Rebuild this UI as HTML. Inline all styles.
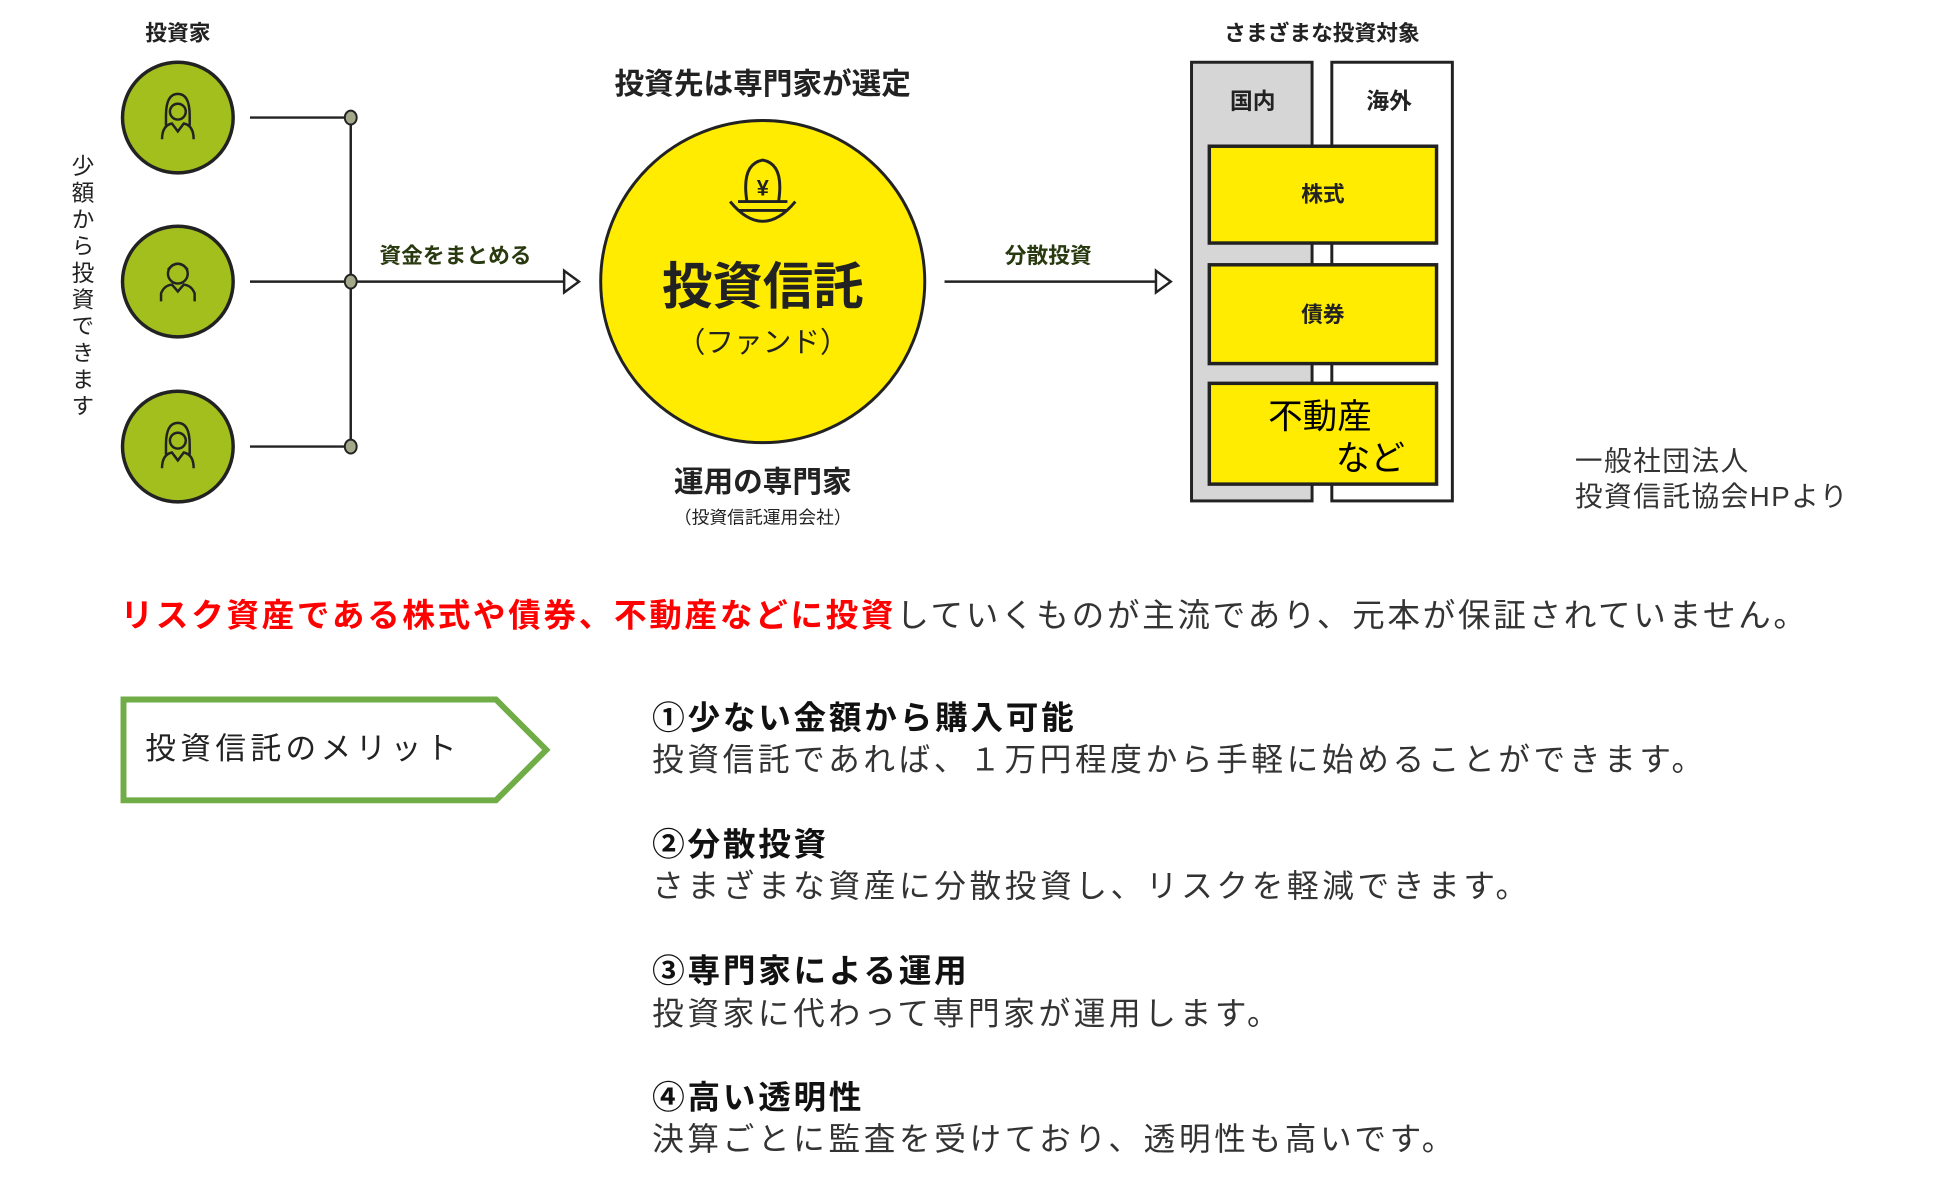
<!DOCTYPE html>
<html><head><meta charset="utf-8"><style>
html,body{margin:0;padding:0;background:#fff;}
body{width:1946px;height:1188px;position:relative;overflow:hidden;font-family:"Liberation Sans","Noto Sans CJK JP",sans-serif;color:#222;}
#w{position:absolute;left:0;top:0;width:1946px;height:1188px;transform:scale(0.988);transform-origin:0 0;}
.t{position:absolute;white-space:nowrap;line-height:1;}
.c{transform:translate(-50%,-50%);}
.b{font-weight:bold;}
</style></head><body><div id="w">
<svg width="1946" height="1188" style="position:absolute;left:0;top:0">
  <g stroke="#222" stroke-width="3.5" fill="#a3bf1e">
    <circle cx="180" cy="119" r="56"/>
    <circle cx="180" cy="285" r="56"/>
    <circle cx="180" cy="452" r="56"/>
  </g>
  <g fill="none" stroke="#222" stroke-width="2.5">
    <g transform="translate(180,119)"><path d="M-12 -2 Q-12 -24 0 -24 Q12 -24 12 -2 L12 8 M-12 -2 L-12 8"/><circle cx="0" cy="-6" r="8"/><path d="M-16 22 Q-16 8 -6 6 L0 14 L6 6 Q16 8 16 22"/></g>
    <g transform="translate(180,285)"><circle cx="0" cy="-8" r="10"/><path d="M-10 -12 Q0 -24 10 -12"/><path d="M-17 20 L-17 12 Q-14 4 -6 3 L0 10 L6 3 Q14 4 17 12 L17 20"/></g>
    <g transform="translate(180,452)"><path d="M-12 -2 Q-12 -24 0 -24 Q12 -24 12 -2 L12 8 M-12 -2 L-12 8"/><circle cx="0" cy="-6" r="8"/><path d="M-16 22 Q-16 8 -6 6 L0 14 L6 6 Q16 8 16 22"/></g>
  </g>
  <g stroke="#222" stroke-width="2.5" fill="none">
    <line x1="253" y1="119" x2="355" y2="119"/>
    <line x1="253" y1="285" x2="355" y2="285"/>
    <line x1="253" y1="452" x2="355" y2="452"/>
    <line x1="355" y1="119" x2="355" y2="452"/>
    <line x1="355" y1="285" x2="572" y2="285"/>
    <polygon points="571,274 586,285 571,296" fill="#fff"/>
    <line x1="956" y1="285" x2="1171" y2="285"/>
    <polygon points="1170,274 1185,285 1170,296" fill="#fff"/>
  </g>
  <g fill="#a3a88a" stroke="#222" stroke-width="2">
    <ellipse cx="355" cy="119" rx="6" ry="7"/>
    <ellipse cx="355" cy="285" rx="6" ry="7"/>
    <ellipse cx="355" cy="452" rx="6" ry="7"/>
  </g>
  <ellipse cx="772" cy="285" rx="164" ry="163" fill="#ffec00" stroke="#222" stroke-width="3"/>
  <g fill="none" stroke="#222" stroke-width="3">
    <path d="M756 204 Q750 166 772 162 Q794 166 788 204"/>
    <path d="M747 204 L797 204 M739 204 Q772 244 805 204 M748 213 L796 213"/>
  </g>
  <text x="772" y="198" font-size="22" font-weight="bold" text-anchor="middle" font-family="Liberation Sans" fill="#222">¥</text>
  <rect x="1206" y="63" width="122" height="444" fill="#d6d6d6" stroke="#222" stroke-width="3"/>
  <rect x="1348" y="63" width="122" height="444" fill="#fff" stroke="#222" stroke-width="3"/>
  <rect x="1224" y="148" width="230" height="98" fill="#ffec00" stroke="#222" stroke-width="3.5"/>
  <rect x="1224" y="268" width="230" height="100" fill="#ffec00" stroke="#222" stroke-width="3.5"/>
  <rect x="1224" y="388" width="230" height="102" fill="#ffec00" stroke="#222" stroke-width="3.5"/>
  <polygon points="125,708 502,708 553,759 502,810 125,810" fill="#fff" stroke="#70ad47" stroke-width="6"/>
</svg>

<div class="t c b" style="left:180px;top:34px;font-size:22px;">投資家</div>
<div class="t" style="left:70px;top:156px;font-size:23px;writing-mode:vertical-rl;letter-spacing:4px;">少額から投資できます</div>
<div class="t c b" style="left:461px;top:259px;font-size:22px;color:#2a3a10;">資金をまとめる</div>
<div class="t c b" style="left:772px;top:86px;font-size:30px;">投資先は専門家が選定</div>
<div class="t c" style="left:772px;top:290px;font-size:51px;font-weight:bold;">投資信託</div>
<div class="t c" style="left:772px;top:348px;font-size:29px;">（ファンド）</div>
<div class="t c b" style="left:772px;top:489px;font-size:30px;">運用の専門家</div>
<div class="t c" style="left:772px;top:524px;font-size:18px;">（投資信託運用会社）</div>
<div class="t c b" style="left:1061px;top:259px;font-size:22px;color:#2a3a10;">分散投資</div>
<div class="t c b" style="left:1338px;top:34px;font-size:22px;">さまざまな投資対象</div>
<div class="t c b" style="left:1268px;top:103px;font-size:23px;">国内</div>
<div class="t c b" style="left:1406px;top:103px;font-size:23px;">海外</div>
<div class="t c b" style="left:1339px;top:197px;font-size:22px;">株式</div>
<div class="t c b" style="left:1339px;top:319px;font-size:22px;">債券</div>
<div class="t c" style="left:1336px;top:422px;font-size:35px;color:#000;">不動産</div>
<div class="t c" style="left:1387px;top:464px;font-size:35px;color:#000;">など</div>
<div class="t" style="left:1594px;top:449px;font-size:28px;line-height:36px;letter-spacing:1.5px;white-space:pre;color:#333;">一般社団法人
投資信託協会HPより</div>

<div class="t" style="left:122px;top:606px;font-size:33px;letter-spacing:2.7px;color:#333;"><span style="color:#ff0000;font-weight:bold;">リスク資産である株式や債券、不動産などに投資</span>していくものが主流であり、元本が保証されていません。</div>

<div class="t" style="left:147px;top:742px;font-size:31px;letter-spacing:4.5px;color:#222;">投資信託のメリット</div>

<div class="t b" style="left:660px;top:710px;font-size:33px;letter-spacing:2.8px;color:#111;">①少ない金額から購入可能</div>
<div class="t" style="left:660px;top:753px;font-size:32px;letter-spacing:3.7px;color:#333;">投資信託であれば、１万円程度から手軽に始めることができます。</div>
<div class="t b" style="left:660px;top:838px;font-size:33px;letter-spacing:2.8px;color:#111;">②分散投資</div>
<div class="t" style="left:660px;top:881px;font-size:32px;letter-spacing:3.7px;color:#333;">さまざまな資産に分散投資し、リスクを軽減できます。</div>
<div class="t b" style="left:660px;top:966px;font-size:33px;letter-spacing:2.8px;color:#111;">③専門家による運用</div>
<div class="t" style="left:660px;top:1010px;font-size:32px;letter-spacing:3.7px;color:#333;">投資家に代わって専門家が運用します。</div>
<div class="t b" style="left:660px;top:1094px;font-size:33px;letter-spacing:2.8px;color:#111;">④高い透明性</div>
<div class="t" style="left:660px;top:1137px;font-size:32px;letter-spacing:3.7px;color:#333;">決算ごとに監査を受けており、透明性も高いです。</div>
</div></body></html>
